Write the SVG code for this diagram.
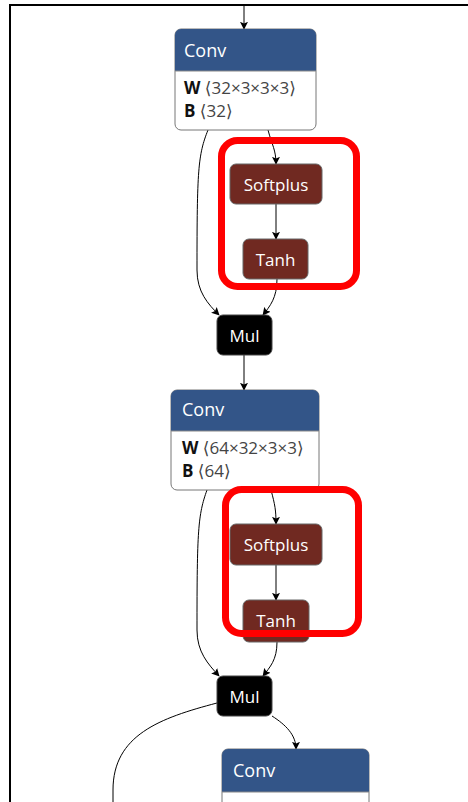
<svg xmlns="http://www.w3.org/2000/svg" width="468" height="802" viewBox="0 0 468 802">
<style>
  .frame { stroke:#000; stroke-width:2; fill:none; }
  .edge { stroke:#000; stroke-width:1; fill:none; marker-end:url(#arrow); }
  .body { fill:#fff; stroke:#777; stroke-width:1; }
  .conv { fill:#335588; }
  .act { fill:#702921; stroke:#666; stroke-width:1; }
  .mul { fill:#000; stroke:#444; stroke-width:1; }
  .sep { stroke:#888; stroke-width:1; }
  .t { font-family:"Open Sans","Liberation Sans",sans-serif; font-size:17px; fill:#fff; }
  .th { font-size:18px; }
  .tc { text-anchor:middle; }
  .attr { font-family:"Open Sans","DejaVu Sans","Liberation Sans",sans-serif; font-size:17px; fill:#111; }
  .attr .k { font-weight:bold; }
  .attr .v { fill:#444; }
  .hl { fill:none; stroke:#ff0000; stroke-width:7; }
</style>
<defs>
  <marker id="arrow" viewBox="0 0 10 10" refX="9" refY="5" markerWidth="8" markerHeight="8" markerUnits="userSpaceOnUse" orient="auto">
    <path d="M0,0 L10,5 L0,10 L2,5 Z" fill="#000"/>
  </marker>
</defs>
<rect width="468" height="802" fill="#fff"/>

<g id="edges">
  <path class="edge" d="M244,6 V29"/>
  <path class="edge" d="M268,130 C272,145 276,150 276,164"/>
  <path class="edge" d="M208,130 C198,155 197,170 197,270 C197,292 208,304 219,315"/>
  <path class="edge" d="M276,204 V239"/>
  <path class="edge" d="M277,279 C277,298 270,306 263,315"/>
  <path class="edge" d="M244,355 V390"/>
  <path class="edge" d="M271,490 C275,505 276,510 276,524"/>
  <path class="edge" d="M207,490 C198,515 197,530 197,630 C197,652 208,664 219,676"/>
  <path class="edge" d="M276,565 V600"/>
  <path class="edge" d="M277,642 C277,660 270,667 263,676"/>
  <path class="edge" d="M272,716 C286,725 296,735 296,749"/>
  <path class="edge" style="marker-end:none" d="M217,703 C160,718 113,735 113,790 V802"/>
</g>

<g id="conv1">
  <rect class="body" x="175" y="29" width="141" height="101" rx="6"/>
  <path class="conv" d="M175,71 V35 a6,6 0 0 1 6,-6 H310 a6,6 0 0 1 6,6 V71 Z"/>
  <line class="sep" x1="175" y1="71" x2="316" y2="71"/>
  <text class="t th" x="184" y="57">Conv</text>
  <text class="attr" x="184" y="94"><tspan class="k">W</tspan><tspan class="v"> ⟨32×3×3×3⟩</tspan></text>
  <text class="attr" x="184" y="117"><tspan class="k">B</tspan><tspan class="v"> ⟨32⟩</tspan></text>
</g>

<g id="softplus1">
  <rect class="act" x="230" y="164" width="92" height="40" rx="6"/>
  <text class="t tc" x="276" y="191">Softplus</text>
</g>

<g id="tanh1">
  <rect class="act" x="243" y="239" width="65" height="40" rx="6"/>
  <text class="t tc" x="275.5" y="266">Tanh</text>
</g>

<g id="mul1">
  <rect class="mul" x="217" y="315" width="55" height="40" rx="6"/>
  <text class="t tc" x="244.5" y="342">Mul</text>
</g>

<g id="conv2">
  <rect class="body" x="171" y="390" width="148" height="100" rx="6"/>
  <path class="conv" d="M171,431 V396 a6,6 0 0 1 6,-6 H313 a6,6 0 0 1 6,6 V431 Z"/>
  <line class="sep" x1="171" y1="431" x2="319" y2="431"/>
  <text class="t th" x="182" y="416">Conv</text>
  <text class="attr" x="182" y="454"><tspan class="k">W</tspan><tspan class="v"> ⟨64×32×3×3⟩</tspan></text>
  <text class="attr" x="182" y="477"><tspan class="k">B</tspan><tspan class="v"> ⟨64⟩</tspan></text>
</g>

<g id="softplus2">
  <rect class="act" x="230" y="524" width="92" height="41" rx="6"/>
  <text class="t tc" x="276" y="551">Softplus</text>
</g>

<g id="tanh2">
  <rect class="act" x="243" y="600" width="66" height="42" rx="6"/>
  <text class="t tc" x="276" y="627">Tanh</text>
</g>

<g id="mul2">
  <rect class="mul" x="217" y="676" width="55" height="40" rx="6"/>
  <text class="t tc" x="244.5" y="703">Mul</text>
</g>

<g id="conv3">
  <rect class="body" x="222" y="749" width="147" height="80" rx="6"/>
  <path class="conv" d="M222,792 V755 a6,6 0 0 1 6,-6 H363 a6,6 0 0 1 6,6 V792 Z"/>
  <line class="sep" x1="222" y1="792" x2="369" y2="792"/>
  <text class="t th" x="233" y="777">Conv</text>
</g>

<g id="highlight1">
  <rect class="hl" x="221.5" y="140.5" width="135" height="146" rx="16"/>
</g>
<g id="highlight2">
  <rect class="hl" x="225.5" y="489.5" width="133" height="144" rx="16"/>
</g>

<g id="frame">
  <path class="frame" d="M10,802 V5 H468"/>
</g>
</svg>
